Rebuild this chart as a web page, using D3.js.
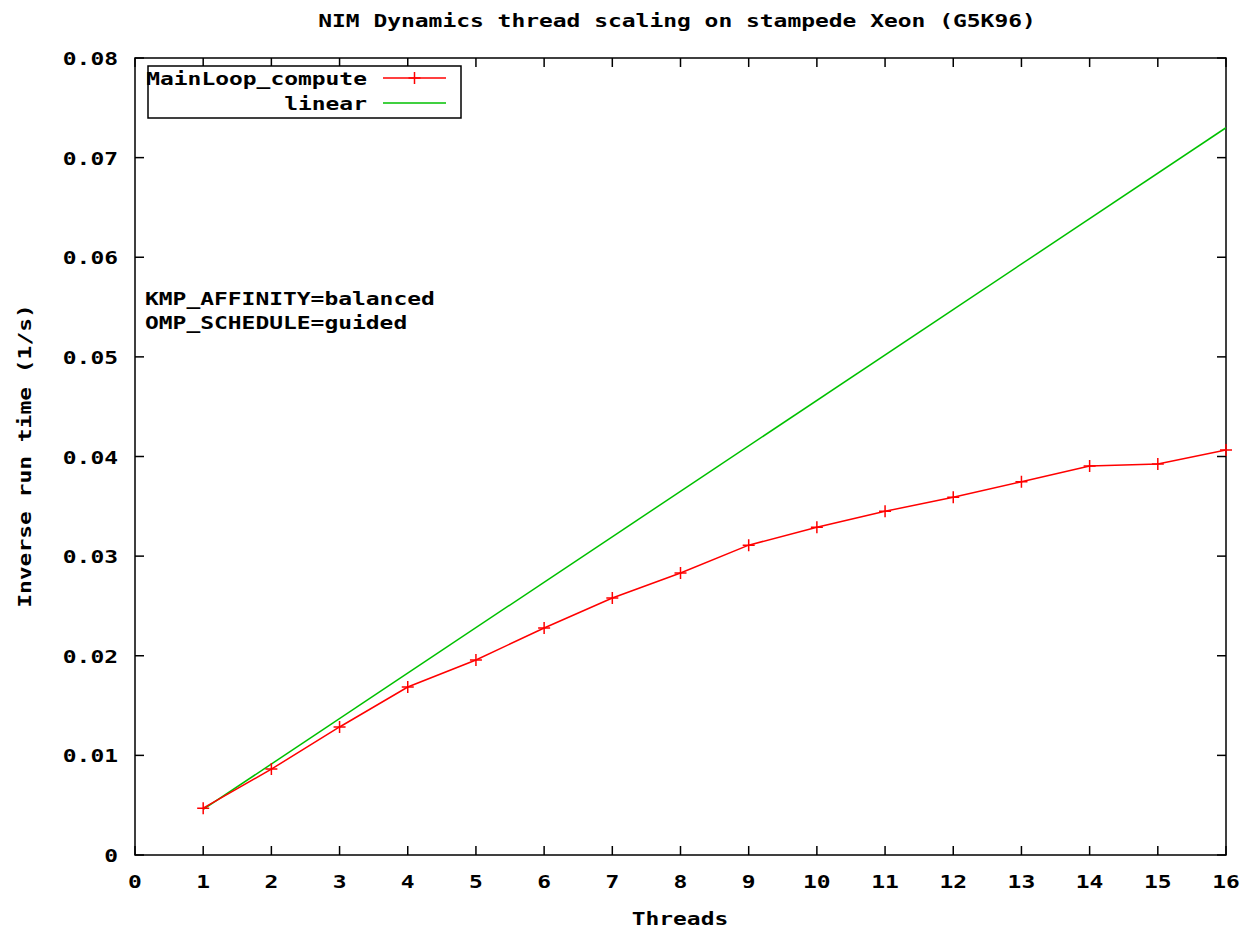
<!DOCTYPE html>
<html>
<head>
<meta charset="utf-8">
<script src="https://cdn.jsdelivr.net/npm/d3@7"></script>
<style>
  html, body { margin: 0; padding: 0; background: #fff; }
  text { font-family: "DejaVu Sans Mono", "Liberation Mono", monospace; font-weight: bold; }
</style>
</head>
<body>
<div id="chart"></div>
<script>
// スレッド数ごとの逆実行時間 (1/s)
var threads = [1, 2, 3, 4, 5, 6, 7, 8, 9, 10, 11, 12, 13, 14, 15, 16];
var compute = [0.00470, 0.00862, 0.01285, 0.01686, 0.01957, 0.02279, 0.02580, 0.02830,
               0.03110, 0.03290, 0.03450, 0.03592, 0.03746, 0.03905, 0.03925, 0.04066];
// 理想線は両端のみ
var linearX = [1, 16];
var linearY = [0.00457, 0.0730];
var xTicks = d3.range(0, 17);
var yTicks = [0, 0.01, 0.02, 0.03, 0.04, 0.05, 0.06, 0.07, 0.08];
var notes = ['KMP_AFFINITY=balanced', 'OMP_SCHEDULE=guided'];

(function () {
    'use strict';
    var W = 1250, H = 930;
    var ml = 135, mr = 1226, mt = 58, mb = 855;
    var CW = 13.8; // 1 文字の送り幅 (ビットマップフォント相当)

    var svg = d3.select('#chart').append('svg')
        .attr('width', W).attr('height', H);

    var x = d3.scaleLinear().domain([0, 16]).range([ml, mr]);
    var y = d3.scaleLinear().domain([0, 0.08]).range([mb, mt]);

    function label(t, px, py, anchor, size) {
        return svg.append('text').attr('x', px).attr('y', py)
            .attr('text-anchor', anchor || 'start')
            .attr('font-size', size || 17)
            .attr('textLength', t.length * CW)
            .attr('lengthAdjust', 'spacingAndGlyphs')
            .text(t);
    }

    label('NIM Dynamics thread scaling on stampede Xeon (G5K96)', 677, 27, 'middle');

    // 目盛り (四辺とも内向き)
    var tl = 9;
    yTicks.forEach(function (t) {
        svg.append('line').attr('x1', ml).attr('x2', ml + tl)
            .attr('y1', y(t)).attr('y2', y(t)).attr('stroke', '#000').attr('stroke-width', 1.5);
        svg.append('line').attr('x1', mr).attr('x2', mr - tl)
            .attr('y1', y(t)).attr('y2', y(t)).attr('stroke', '#000').attr('stroke-width', 1.5);
        label(t === 0 ? '0' : d3.format('.2f')(t), 118, y(t) + 7, 'end');
    });
    xTicks.forEach(function (t) {
        svg.append('line').attr('x1', x(t)).attr('x2', x(t))
            .attr('y1', mb).attr('y2', mb - tl).attr('stroke', '#000').attr('stroke-width', 1.5);
        svg.append('line').attr('x1', x(t)).attr('x2', x(t))
            .attr('y1', mt).attr('y2', mt + tl).attr('stroke', '#000').attr('stroke-width', 1.5);
        label(String(t), x(t), 888, 'middle');
    });

    svg.append('rect').attr('x', ml).attr('y', mt)
        .attr('width', mr - ml).attr('height', mb - mt)
        .attr('fill', 'none').attr('stroke', '#000').attr('stroke-width', 1.5);

    label('Threads', 680, 925, 'middle');
    label('Inverse run time (1/s)', 0, 0, 'middle')
        .attr('transform', 'translate(31,456) rotate(-90)');

    notes.forEach(function (n, i) {
        label(n, 145, 305 + i * 24, 'start');
    });

    // データ
    var clip = svg.append('clipPath').attr('id', 'pa').append('rect')
        .attr('x', ml).attr('y', mt).attr('width', mr - ml).attr('height', mb - mt);
    var g = svg.append('g').attr('clip-path', 'url(#pa)');

    var line = d3.line().x(function (d) { return x(d[0]); }).y(function (d) { return y(d[1]); });

    g.append('path').datum(d3.zip(linearX, linearY)).attr('d', line)
        .attr('fill', 'none').attr('stroke', '#00c000').attr('stroke-width', 1.5);
    g.append('path').datum(d3.zip(threads, compute)).attr('d', line)
        .attr('fill', 'none').attr('stroke', '#ff0000').attr('stroke-width', 1.5);

    var ps = 6;
    function plus(sel, cx, cy) {
        sel.append('path')
            .attr('d', 'M' + (cx - ps) + ',' + cy + 'H' + (cx + ps) + 'M' + cx + ',' + (cy - ps) + 'V' + (cy + ps))
            .attr('stroke', '#ff0000').attr('stroke-width', 1.5).attr('fill', 'none');
    }
    threads.forEach(function (t, i) { plus(svg, x(t), y(compute[i])); });

    // 凡例
    svg.append('rect').attr('x', 148).attr('y', 66).attr('width', 313).attr('height', 52)
        .attr('fill', '#fff').attr('stroke', '#000').attr('stroke-width', 1.5);
    label('MainLoop_compute', 367, 85, 'end');
    label('linear', 367, 110, 'end');
    svg.append('line').attr('x1', 383).attr('x2', 446).attr('y1', 78).attr('y2', 78)
        .attr('stroke', '#ff0000').attr('stroke-width', 1.5);
    plus(svg, 414.5, 78);
    svg.append('line').attr('x1', 383).attr('x2', 446).attr('y1', 103).attr('y2', 103)
        .attr('stroke', '#00c000').attr('stroke-width', 1.5);
})();
</script>
</body>
</html>
